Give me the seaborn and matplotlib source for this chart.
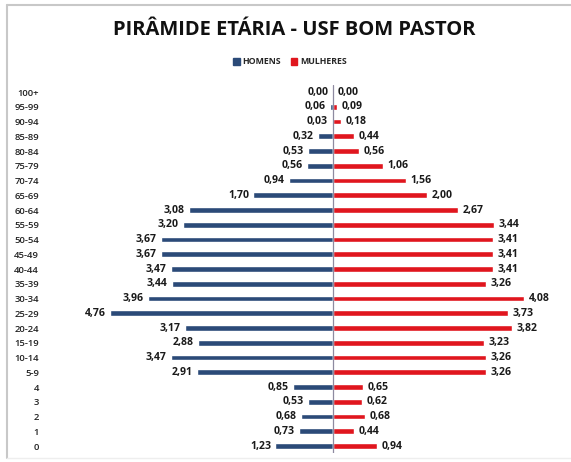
import pandas as pd
import seaborn as sns
import matplotlib.pyplot as plt
from matplotlib.lines import Line2D
from matplotlib.patches import Patch

# Faixas etárias (do topo para a base)
faixas = ["100+", "95-99", "90-94", "85-89", "80-84", "75-79", "70-74", "65-69",
          "60-64", "55-59", "50-54", "45-49", "40-44", "35-39", "30-34", "25-29",
          "20-24", "15-19", "10-14", "5-9", "4", "3", "2", "1", "0"]
homens = [0.00, 0.06, 0.03, 0.32, 0.53, 0.56, 0.94, 1.70, 3.08, 3.20, 3.67, 3.67,
          3.47, 3.44, 3.96, 4.76, 3.17, 2.88, 3.47, 2.91, 0.85, 0.53, 0.68, 0.73, 1.23]
mulheres = [0.00, 0.09, 0.18, 0.44, 0.56, 1.06, 1.56, 2.00, 2.67, 3.44, 3.41, 3.41,
            3.41, 3.26, 4.08, 3.73, 3.82, 3.23, 3.26, 3.26, 0.65, 0.62, 0.68, 0.44, 0.94]

cor_h = "#2B4A78"
cor_m = "#E0161E"

df = pd.DataFrame({"Faixa": faixas, "Homens": homens, "Mulheres": mulheres})
df["Homens_neg"] = -df["Homens"]

sns.set_style("white")
plt.rcParams["font.family"] = ["Open Sans", "DejaVu Sans"]

fig = plt.figure(figsize=(5.71, 4.62), dpi=100)
ax = fig.add_axes([60 / 571, 1 - 453.4 / 462, 495 / 571, 368.75 / 462])

sns.barplot(data=df, y="Faixa", x="Homens_neg", order=faixas, color=cor_h,
            width=0.38, saturation=1, ax=ax)
sns.barplot(data=df, y="Faixa", x="Mulheres", order=faixas, color=cor_m,
            width=0.38, saturation=1, ax=ax)

ax.set_xlim(-(333 - 60) / 46.8, (555 - 333) / 46.8)
ax.set_ylim(24.5, -0.5)
ax.axvline(0, color="#8E8AA0", lw=0.9, zorder=5)

for i, (h, m) in enumerate(zip(homens, mulheres)):
    ax.text(-h - 0.09, i, f"{h:.2f}".replace(".", ","), ha="right", va="center",
            fontsize=7.6, fontweight="bold", color="#1a1a1a")
    ax.text(m + 0.1, i, f"{m:.2f}".replace(".", ","), ha="left", va="center",
            fontsize=7.6, fontweight="bold", color="#1a1a1a")

ax.set_xlabel("")
ax.set_ylabel("")
ax.set_xticks([])
ax.tick_params(axis="y", length=0, pad=15, labelsize=6.8, labelcolor="#222222")
for lbl in ax.get_yticklabels():
    lbl.set_fontweight("semibold")
for s in ax.spines.values():
    s.set_visible(False)

fig.text(0.515, 1 - 30 / 462, "PIRÂMIDE ETÁRIA - USF BOM PASTOR", ha="center",
         va="center", fontsize=14.5, fontweight="bold", color="#111111")

handles = [Patch(color=cor_h, label="HOMENS"), Patch(color=cor_m, label="MULHERES")]
fig.legend(handles=handles, loc="center", bbox_to_anchor=(0.508, 1 - 62 / 462),
           ncol=2, frameon=False, handlelength=0.7, handleheight=0.7,
           handletextpad=0.3, columnspacing=1.2,
           prop={"size": 6.3, "weight": "bold"})

# moldura
fig.add_artist(Line2D([7 / 571, 1], [1 - 5 / 462] * 2, color="#C8C8C8", lw=1.5))
fig.add_artist(Line2D([7 / 571] * 2, [1 - 5 / 462, 1 - 458 / 462], color="#C8C8C8", lw=1.5))
fig.add_artist(Line2D([7 / 571, 1], [1 - 458 / 462] * 2, color="#EEEEEE", lw=1))

fig.savefig("out.png", dpi=100)
